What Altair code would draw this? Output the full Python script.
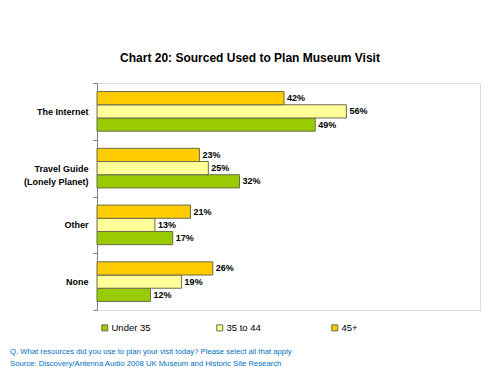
import altair as alt
import pandas as pd

categories = ["The Internet", "Travel Guide (Lonely Planet)", "Other", "None"]
groups = ["Under 35", "35 to 44", "45+"]
under35 = [49, 32, 17, 12]
age35_44 = [56, 25, 13, 19]
over45 = [42, 23, 21, 26]
colors = ["#99CC00", "#FFFF99", "#FFCC00"]

title_text = "Chart 20: Sourced Used to Plan Museum Visit"
note_q = "Q. What resources did you use to plan your visit today? Please select all that apply"
note_src = "Source: Discovery/Antenna Audio 2008 UK Museum and Historic Site Research"

rows = []
for i, c in enumerate(categories):
    for g, vals in zip(groups, [under35, age35_44, over45]):
        rows.append({"cat": c, "grp": g, "val": vals[i], "lbl": f"{vals[i]}%"})
df = pd.DataFrame(rows)

FONT = "Liberation Sans"

y = alt.Y("cat:N", sort=categories,
          scale=alt.Scale(paddingInner=0, paddingOuter=0),
          axis=alt.Axis(title=None, tickBand="extent", grid=False,
                        domainColor="#808080", tickColor="#808080", tickSize=4,
                        labelFont=FONT, labelFontSize=9, labelFontWeight="bold",
                        labelColor="#000000", labelPadding=5, labelLineHeight=13,
                        labelExpr="datum.value == 'Travel Guide (Lonely Planet)' ? ['Travel Guide', '(Lonely Planet)'] : datum.value"))
yoff = alt.YOffset("grp:N", sort=["45+", "35 to 44", "Under 35"],
                   scale=alt.Scale(paddingInner=0, paddingOuter=0.65))
x = alt.X("val:Q", scale=alt.Scale(domain=[0, 86], nice=False), axis=None)

bars = alt.Chart(df).mark_bar(stroke="#6b6b4b", strokeWidth=1).encode(
    y=y, yOffset=yoff, x=x,
    color=alt.Color("grp:N", sort=groups,
                    scale=alt.Scale(domain=groups, range=colors),
                    legend=alt.Legend(title=None, orient="none", legendX=3, legendY=240,
                                      direction="horizontal", symbolType="square",
                                      symbolSize=36, symbolStrokeColor="#6b6b4b",
                                      symbolStrokeWidth=1, labelFont=FONT, labelFontSize=9.5,
                                      labelColor="#000000", gridAlign="all",
                                      columnPadding=63, labelOffset=2)),
)

labels = alt.Chart(df).mark_text(align="left", baseline="middle", dx=3, font=FONT,
                                 fontSize=9, fontWeight="bold", color="#000000").encode(
    y=y, yOffset=yoff, x=x, text="lbl:N")

title = alt.Chart(pd.DataFrame({"t": [title_text]})).mark_text(
    align="center", baseline="middle", font=FONT, fontSize=12, fontWeight="bold",
    color="#000000").encode(x=alt.value(153), y=alt.value(-25), text="t:N")

foot1 = alt.Chart(pd.DataFrame({"t": [note_q]})).mark_text(
    align="left", baseline="middle", font=FONT, fontSize=7.7, color="#0070C0").encode(
    x=alt.value(-87), y=alt.value(269), text="t:N")
foot2 = alt.Chart(pd.DataFrame({"t": [note_src]})).mark_text(
    align="left", baseline="middle", font=FONT, fontSize=7.7, color="#0070C0").encode(
    x=alt.value(-87), y=alt.value(281), text="t:N")

chart = alt.layer(bars, labels, title, foot1, foot2).properties(
    width=383, height=227,
    autosize=alt.AutoSizeParams(type="none"),
    padding={"left": 97, "top": 83, "right": 20, "bottom": 65},
).configure_view(stroke=None).configure(background="white")

chart.save("out.html", embed_options={"renderer": "svg", "actions": False})
